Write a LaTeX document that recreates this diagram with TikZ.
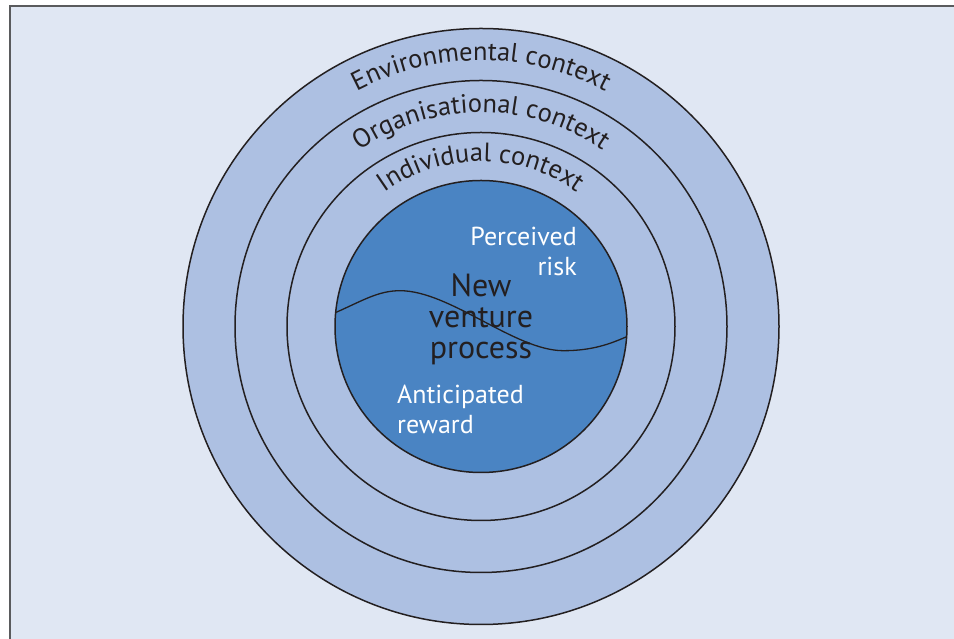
\documentclass[tikz,border=0pt]{standalone}
\usepackage{fontspec}
\setmainfont{PT Sans}
\usetikzlibrary{decorations.text}
\definecolor{pagebg}{HTML}{E0E7F3}
\definecolor{ringblue}{HTML}{ADC0E2}
\definecolor{coreblue}{HTML}{4A84C3}
\definecolor{framegray}{HTML}{5A5B5D}
\definecolor{inkdark}{HTML}{231F20}

\begin{document}
\begin{tikzpicture}[x=1pt, y=1pt,
    ring/.style={circle, draw=inkdark, line width=1.5pt, fill=ringblue,
      inner sep=0pt},
    ringlabel/.style={decorate, decoration={text along path,
        text align=center, text color=inkdark}},
    lighttext/.style={text=white, font=\fontsize{26}{30}\selectfont,
      inner sep=0pt},
    darktext/.style={text=inkdark, font=\fontsize{32}{31}\selectfont,
      inner sep=0pt}
  ]
  \useasboundingbox (0,0) rectangle (954,639);
  \fill[pagebg] (10,0) rectangle (954,632.5);
  \draw[framegray, line width=2pt] (10,0) -- (10,632.5) -- (954,632.5);

  \coordinate (c) at (481,312.5);
  \node[ring, minimum size=596pt] (environment) at (c) {};
  \node[ring, minimum size=492pt] (organisation) at (c) {};
  \node[ring, minimum size=388pt] (individual) at (c) {};
  \node[ring, fill=coreblue, minimum size=292pt] (venture) at (c) {};

  \path[ringlabel, decoration={text={|\fontsize{26.5}{30}\selectfont|Environmental context}}]
    ([shift={(150:266)}]c) arc[start angle=150, end angle=30, radius=266];
  \path[ringlabel, decoration={text={|\fontsize{26.5}{30}\selectfont|Organisational context}}]
    ([shift={(150:214)}]c) arc[start angle=150, end angle=30, radius=214];
  \path[ringlabel, decoration={text={|\fontsize{26.5}{30}\selectfont|Individual context}}]
    ([shift={(150:165)}]c) arc[start angle=150, end angle=30, radius=165];

  % boundary between risk and reward
  \coordinate (waveleft) at ([shift={(174.5:146)}]c);
  \coordinate (wavepeak) at (400,348.3);
  \coordinate (wavetrough) at (563.3,288.3);
  \coordinate (waveright) at ([shift={(-4:146)}]c);
  \draw[inkdark, line width=1.3pt] (waveleft)
    .. controls (362,338) and (378,348.3) .. (wavepeak)
    .. controls (450,348.3) and (515,288.3) .. (wavetrough)
    .. controls (592,288.3) and (610,295) .. (waveright);

  \node[lighttext, align=right, anchor=base east] (risk) at (577,363)
    {Perceived\\risk};
  \node[darktext, align=center, anchor=base] (process) at (481,280)
    {New\\venture\\process};
  \node[lighttext, align=left, anchor=base west] (reward) at (397,205)
    {Anticipated\\reward};
\end{tikzpicture}
\end{document}
